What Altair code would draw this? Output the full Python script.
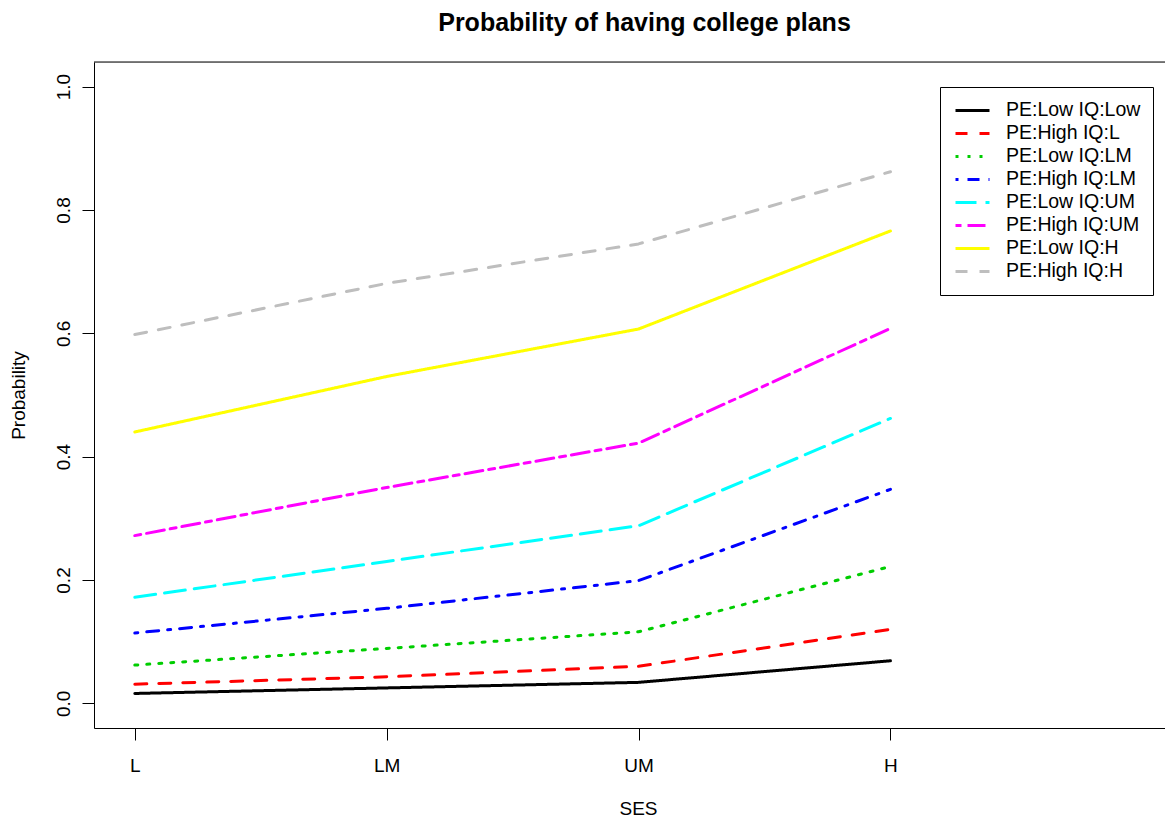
import altair as alt
import pandas as pd

ses = ["L", "LM", "UM", "H"]
series = ["PE:Low IQ:Low", "PE:High IQ:L", "PE:Low IQ:LM", "PE:High IQ:LM",
          "PE:Low IQ:UM", "PE:High IQ:UM", "PE:Low IQ:H", "PE:High IQ:H"]

pe_low_iq_low = [0.016, 0.025, 0.034, 0.069]
pe_high_iq_l = [0.031, 0.043, 0.060, 0.120]
pe_low_iq_lm = [0.062, 0.089, 0.116, 0.222]
pe_high_iq_lm = [0.114, 0.154, 0.199, 0.347]
pe_low_iq_um = [0.172, 0.230, 0.288, 0.462]
pe_high_iq_um = [0.272, 0.350, 0.422, 0.608]
pe_low_iq_h = [0.440, 0.530, 0.607, 0.766]
pe_high_iq_h = [0.598, 0.681, 0.745, 0.862]

values = [pe_low_iq_low, pe_high_iq_l, pe_low_iq_lm, pe_high_iq_lm,
          pe_low_iq_um, pe_high_iq_um, pe_low_iq_h, pe_high_iq_h]

colors = ["#000000", "#FF0000", "#00CD00", "#0000FF",
          "#00FFFF", "#FF00FF", "#FFFF00", "#BEBEBE"]
dashes = [[1, 0], [12, 12], [3, 9], [3, 9, 12, 9],
          [21, 9], [6, 6, 18, 6], [1, 0], [12, 12]]

rows = []
for name, vals in zip(series, values):
    for i, (lab, v) in enumerate(zip(ses, vals)):
        rows.append({"series": name, "pos": i + 1, "ses": lab, "prob": v})
df = pd.DataFrame(rows)

W, H = 1071, 666
FONT = "Liberation Sans"
FS = 19

label_expr = "[" + ",".join("'" + s + "'" for s in ses) + "][datum.value - 1]"

legend = alt.Legend(title=None, orient="none", legendX=846, legendY=25,
                    symbolType="stroke", symbolSize=1156, symbolStrokeWidth=3,
                    labelFontSize=19.5, labelFont=FONT, labelColor="black",
                    clipHeight=22.75, rowPadding=0, padding=12,
                    labelOffset=15, symbolOffset=2,
                    strokeColor="black")

lines = alt.Chart(df).mark_line(strokeWidth=3, strokeCap="round", strokeJoin="round").encode(
    x=alt.X("pos:Q",
            scale=alt.Scale(domain=[0.838, 5.09], nice=False, zero=False),
            axis=alt.Axis(values=[1, 2, 3, 4], labelExpr=label_expr, title="SES",
                          grid=False, tickSize=12, labelPadding=16,
                          labelFontSize=FS, labelFont=FONT, labelColor="black",
                          tickColor="black", domainColor="black",
                          titleFontSize=FS, titleFont=FONT, titleFontWeight="normal",
                          titleColor="black", titleX=544, titleY=80,
                          titleBaseline="middle", titleAnchor="middle")),
    y=alt.Y("prob:Q",
            scale=alt.Scale(domain=[-0.04, 1.04], nice=False, zero=False),
            axis=alt.Axis(values=[0, 0.2, 0.4, 0.6, 0.8, 1.0], format=".1f",
                          title="Probability", grid=False, tickSize=12,
                          labelAngle=270, labelAlign="center", labelBaseline="middle",
                          labelPadding=19, labelFontSize=FS, labelFont=FONT,
                          labelColor="black", tickColor="black", domainColor="black",
                          titleFontSize=FS, titleFont=FONT, titleFontWeight="normal",
                          titleColor="black", titleAngle=270, titleX=-76, titleY=333,
                          titleBaseline="middle", titleAlign="center")),
    color=alt.Color("series:N", sort=series,
                    scale=alt.Scale(domain=series, range=colors), legend=legend),
    strokeDash=alt.StrokeDash("series:N", sort=series,
                              scale=alt.Scale(domain=series, range=dashes), legend=legend),
    order=alt.Order("pos:Q"),
)

frame_top = alt.Chart(pd.DataFrame({"k": [0]})).mark_rule(color="black", strokeWidth=1).encode(
    x=alt.value(0), x2=alt.value(W), y=alt.value(0)
)

chart = alt.layer(lines, frame_top).properties(
    width=W, height=H,
    padding={"left": 86, "top": 54, "right": 0, "bottom": 92},
    autosize=alt.AutoSizeParams(type="none"),
    title=alt.TitleParams("Probability of having college plans", fontSize=25,
                          fontWeight="bold", font=FONT, color="black",
                          anchor="middle", dx=15, offset=6, baseline="alphabetic"),
).configure_view(stroke=None).configure(background="white")

chart.save("out.html", embed_options={"renderer": "svg", "actions": False})
